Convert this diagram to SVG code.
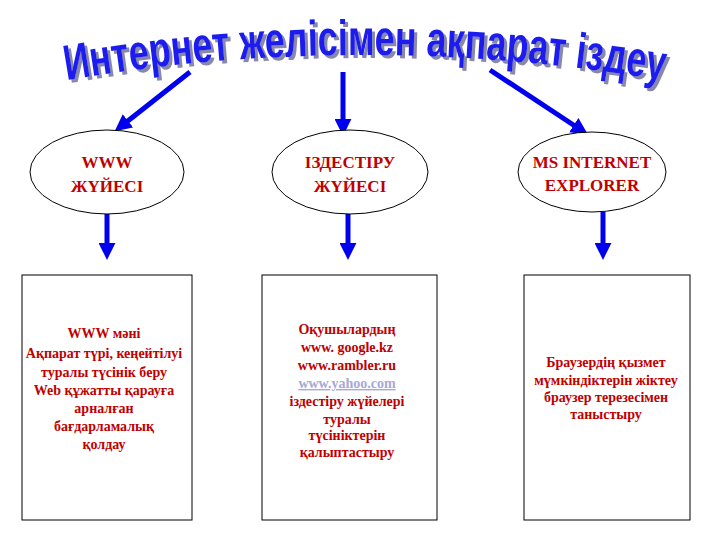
<svg xmlns="http://www.w3.org/2000/svg" width="720" height="540" viewBox="0 0 720 540">
<style>
.n{fill:#fff;stroke:#000;stroke-width:1}
.t{font-family:"Liberation Serif",serif;font-weight:bold;fill:#c00000;text-anchor:middle}
.h{font-size:17px}
.s{font-size:14px}
.c{stroke:#0000ee;stroke-width:5;fill:none}
</style>
<defs>
<marker id="a" viewBox="0 0 10 10" refX="3" refY="5" markerWidth="3.4" markerHeight="3.4" orient="auto" markerUnits="strokeWidth"><path d="M0,0L10,5L0,10z" fill="#0000ee"/></marker>
<filter id="sh" x="-5%" y="-20%" width="110%" height="140%"><feDropShadow dx="3" dy="3" stdDeviation="0" flood-color="#8888aa"/></filter>
<path id="arc" d="M40,85 Q360,25 690,85"/>
</defs>
<g id="title">
<text font-family="Liberation Sans Narrow,Liberation Sans,sans-serif" font-weight="bold" font-size="50" fill="#1a1aee" filter="url(#sh)"><textPath href="#arc" startOffset="50%" text-anchor="middle" textLength="600" lengthAdjust="spacingAndGlyphs">Интернет желісімен ақпарат іздеу</textPath></text>
</g>
<g id="connectors">
<line class="c" x1="190" y1="72" x2="124" y2="124" marker-end="url(#a)"/>
<line class="c" x1="343" y1="72" x2="343" y2="124" marker-end="url(#a)"/>
<line class="c" x1="490" y1="70" x2="578" y2="128" marker-end="url(#a)"/>
<line class="c" x1="107" y1="212" x2="107" y2="248" marker-end="url(#a)"/>
<line class="c" x1="348" y1="214" x2="348" y2="248" marker-end="url(#a)"/>
<line class="c" x1="603" y1="212" x2="603" y2="248" marker-end="url(#a)"/>
</g>
<g id="e1"><ellipse class="n" cx="107" cy="172" rx="77" ry="42"/><text class="t h" x="107" y="168">WWW</text><text class="t h" x="107" y="192">ЖҮЙЕСІ</text></g>
<g id="e2"><ellipse class="n" cx="350" cy="172" rx="78" ry="42"/><text class="t h" x="350" y="168">ІЗДЕСТІРУ</text><text class="t h" x="350" y="192">ЖҮЙЕСІ</text></g>
<g id="e3"><ellipse class="n" cx="592" cy="172" rx="74" ry="40"/><text class="t h" x="592" y="168">MS INTERNET</text><text class="t h" x="592" y="191">EXPLORER</text></g>
<g id="b1"><rect class="n" x="22" y="275" width="170" height="245"/>
<text class="t s"><tspan x="104" y="338">WWW мәні</tspan><tspan x="104" y="358">Ақпарат түрі, кеңейтілуі</tspan><tspan x="104" y="377">туралы түсінік беру</tspan><tspan x="104" y="395">Web құжатты қарауға</tspan><tspan x="104" y="413">арналған</tspan><tspan x="104" y="431">бағдарламалық</tspan><tspan x="104" y="449">қолдау</tspan></text></g>
<g id="b2"><rect class="n" x="262" y="275" width="175" height="245"/>
<text class="t s"><tspan x="347" y="334">Оқушылардың</tspan><tspan x="347" y="352">www. google.kz</tspan><tspan x="347" y="370">www.rambler.ru</tspan><tspan x="347" y="388" fill="#a8a8d8" text-decoration="underline">www.yahoo.com</tspan><tspan x="347" y="406">іздестіру  жүйелері</tspan><tspan x="347" y="424">туралы</tspan><tspan x="347" y="440">түсініктерін</tspan><tspan x="347" y="457">қалыптастыру</tspan></text></g>
<g id="b3"><rect class="n" x="524" y="275" width="166" height="245"/>
<text class="t s"><tspan x="606" y="367">Браузердің қызмет</tspan><tspan x="606" y="385">мүмкіндіктерін жіктеу</tspan><tspan x="606" y="402">браузер терезесімен</tspan><tspan x="606" y="419">таныстыру</tspan></text></g>
</svg>
